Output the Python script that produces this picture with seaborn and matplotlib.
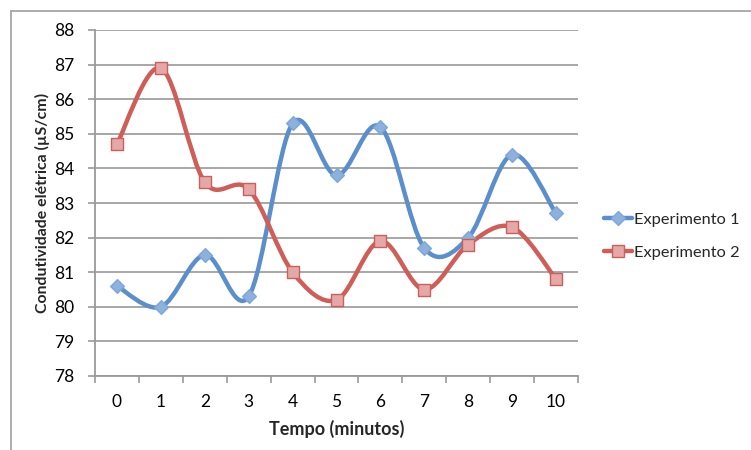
import numpy as np
import matplotlib
matplotlib.use("Agg")
import matplotlib.pyplot as plt
from matplotlib.path import Path
from matplotlib.patches import PathPatch
from matplotlib.lines import Line2D
import seaborn as sns
import pandas as pd

# Conductivity readings per minute
tempo = [0, 1, 2, 3, 4, 5, 6, 7, 8, 9, 10]
experimento_1 = [80.6, 80.0, 81.5, 80.3, 85.3, 83.8, 85.2, 81.7, 82.0, 84.4, 82.7]
experimento_2 = [84.7, 86.9, 83.6, 83.4, 81.0, 80.2, 81.9, 80.5, 81.8, 82.3, 80.8]
series_names = ["Experimento 1", "Experimento 2"]
y_ticks = [78, 79, 80, 81, 82, 83, 84, 85, 86, 87, 88]

sns.set_theme(style="white")
plt.rcParams["font.family"] = ["Lato", "DejaVu Sans"]

df = pd.DataFrame({
    "tempo": tempo * 2,
    "valor": experimento_1 + experimento_2,
    "serie": [series_names[0]] * len(tempo) + [series_names[1]] * len(tempo),
})

fig = plt.figure(figsize=(7.51, 4.5), dpi=100)
ax = fig.add_axes([95 / 751, 1 - 376 / 450, (578 - 95) / 751, (376 - 30) / 450])

line_colors = ["#5B8FCB", "#CF5E59"]
face_colors = ["#8DB1DE", "#E6A8A6"]
edge_colors = ["#7FA7D8", "#C9605C"]
markers = ["D", "s"]
msizes = [7.0, 8.0]


def smooth_path(xs, ys):
    """Catmull-Rom style cubic Bezier through the points (data coordinates)."""
    pts = np.column_stack([xs, ys]).astype(float)
    n = len(pts)
    verts = [pts[0]]
    codes = [Path.MOVETO]
    for i in range(n - 1):
        p0 = pts[i - 1] if i > 0 else pts[i]
        p1 = pts[i]
        p2 = pts[i + 1]
        p3 = pts[i + 2] if i + 2 < n else pts[i + 1]
        c1 = p1 + (p2 - p0) / 6.0
        c2 = p2 - (p3 - p1) / 6.0
        verts += [c1, c2, p2]
        codes += [Path.CURVE4] * 3
    return Path(verts, codes)


for k, name in enumerate(series_names):
    sub = df[df["serie"] == name]
    patch = PathPatch(smooth_path(sub["tempo"].values, sub["valor"].values),
                      facecolor="none", edgecolor=line_colors[k], lw=3.2,
                      capstyle="round", joinstyle="round", zorder=3)
    ax.add_patch(patch)

for k, name in enumerate(series_names):
    sub = df[df["serie"] == name]
    sns.scatterplot(data=sub, x="tempo", y="valor", ax=ax, marker=markers[k],
                    s=msizes[k] ** 2, color=face_colors[k],
                    edgecolor=edge_colors[k], linewidth=1.0, zorder=4,
                    legend=False)

ax.set_xlim(-0.5, 10.5)
ax.set_ylim(78, 88)
ax.set_yticks(y_ticks)
ax.set_xticks(tempo)
ax.set_xticks(np.arange(-0.5, 11, 1.0), minor=True)
ax.tick_params(axis="x", which="major", length=0, pad=13, labelsize=12.5,
               colors="#000000")
ax.tick_params(axis="x", which="minor", length=5, width=1.2, color="#9a9a9a",
               direction="out", bottom=True)
ax.tick_params(axis="y", which="major", length=5, width=1.2, color="#9a9a9a",
               direction="out", left=True, pad=10, labelsize=12.5,
               labelcolor="#000000")
ax.grid(axis="y", color="#a0a0a0", lw=1.3)
ax.set_axisbelow(True)
for side in ["top", "right"]:
    ax.spines[side].set_visible(False)
for side in ["left", "bottom"]:
    ax.spines[side].set_color("#9a9a9a")
    ax.spines[side].set_linewidth(1.3)

ax.set_xlabel("Tempo (minutos)", fontsize=13, fontweight="bold",
              labelpad=7)
ax.set_ylabel("Condutividade elétrica (µS/cm)", fontsize=11.4,
              fontweight="bold", labelpad=3)

handles = [
    Line2D([], [], color=line_colors[k], lw=3.2, marker=markers[k],
           markersize=msizes[k], markerfacecolor=face_colors[k],
           markeredgecolor=edge_colors[k])
    for k in range(2)
]
fig.legend(handles, series_names, loc="center left",
           bbox_to_anchor=(597 / 751, 1 - 236 / 450), frameon=False,
           fontsize=11.8, handlelength=1.75, handletextpad=0.1,
           labelspacing=1.15, borderaxespad=0)

# outer chart frame
frame_kw = dict(color="#a6a6a6", lw=1.3, transform=fig.transFigure)
fig.add_artist(Line2D([11 / 751, 1.0], [1 - 11 / 450, 1 - 11 / 450], **frame_kw))
fig.add_artist(Line2D([11 / 751, 11 / 751], [0.0, 1 - 11 / 450], **frame_kw))

fig.savefig("out.png", dpi=100, facecolor="white")
